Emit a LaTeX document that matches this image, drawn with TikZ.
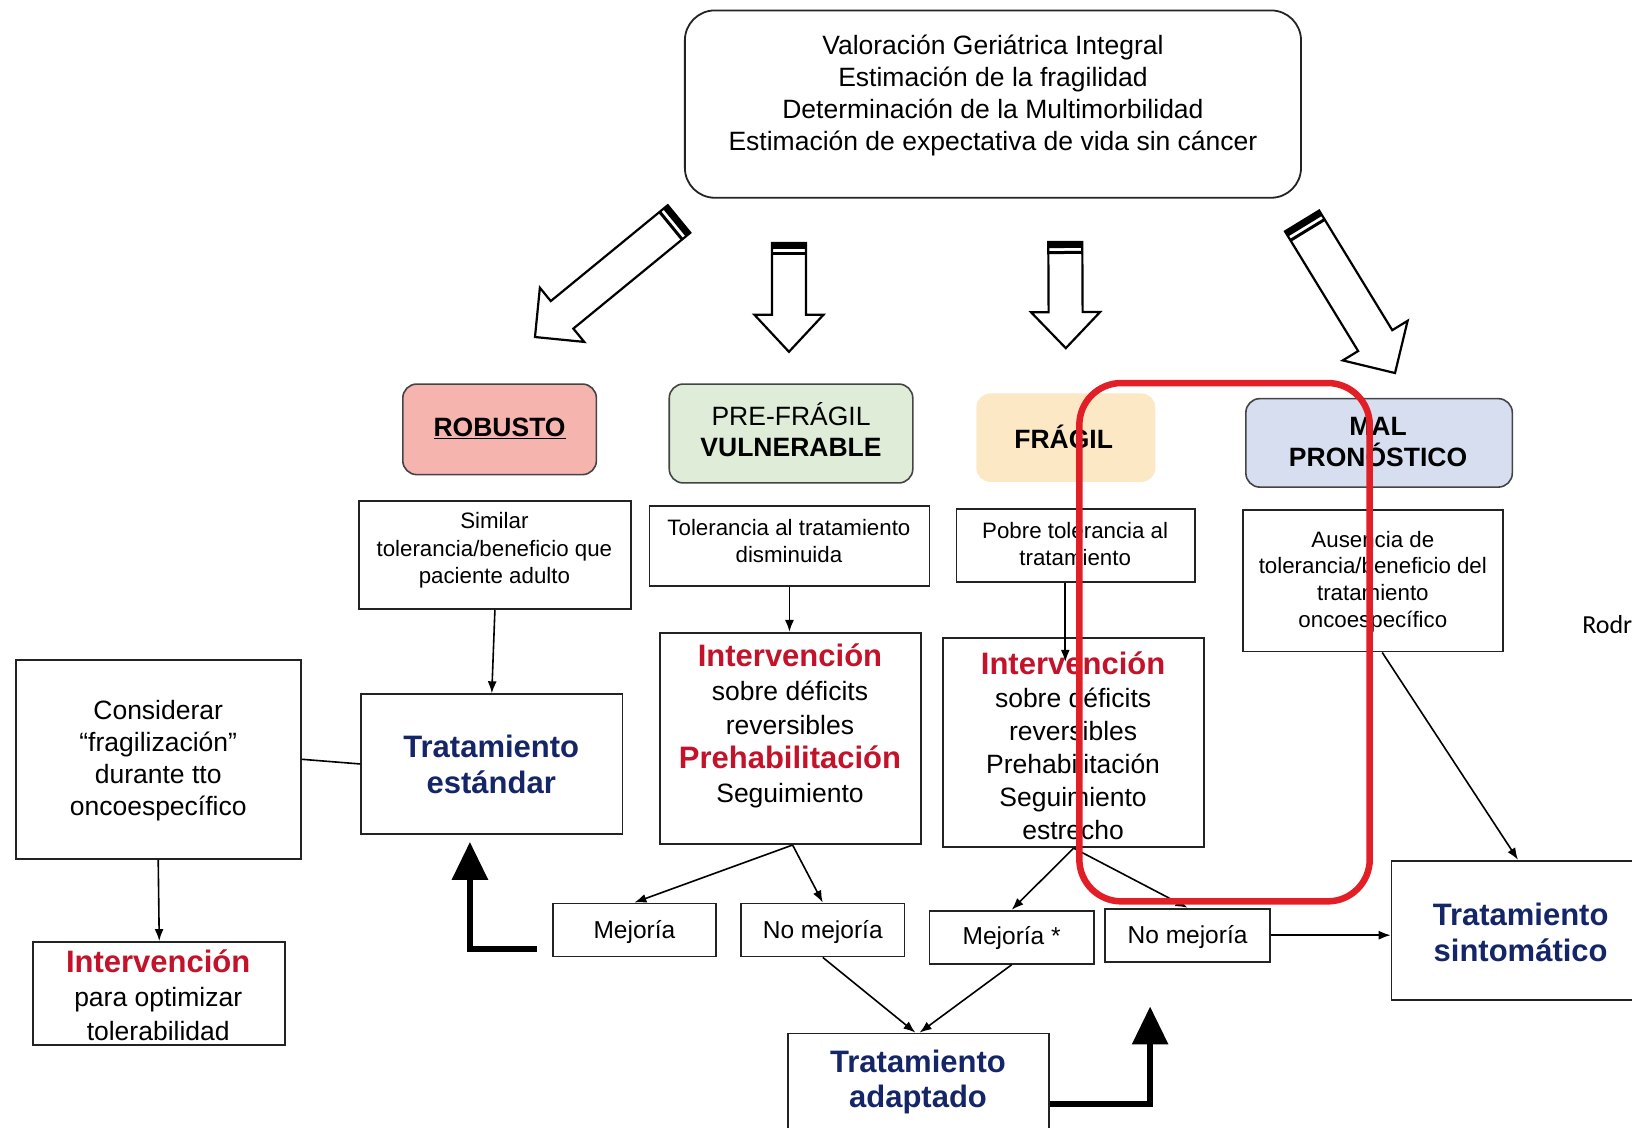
\documentclass[tikz,border=0pt]{standalone}
\usepackage{fontspec}
\setmainfont{Liberation Sans}
\newfontfamily\carlito{Carlito}
\usetikzlibrary{calc,fit,arrows.meta}

\definecolor{boxline}{RGB}{35,35,35}
\definecolor{ired}{RGB}{196,18,42}
\definecolor{tblue}{RGB}{20,38,104}
\definecolor{robfill}{RGB}{246,180,174}
\definecolor{prefill}{RGB}{223,236,215}
\definecolor{fragfill}{RGB}{253,232,198}
\definecolor{malfill}{RGB}{214,222,240}
\definecolor{frame}{RGB}{226,30,38}

\newcommand\fs[2]{\fontsize{#1pt}{#2pt}\selectfont}
\newcommand\redb[1]{{\bfseries\color{ired}\fs{31}{34}#1}}

% hollow block arrow: tail, tip, half shaft width, half head width, head length
\newcommand\blockarrow[5]{%
  \coordinate (ba-b) at ($(#2)!#5!(#1)$);
  \filldraw[hollowarrow]
    ($(#1)!#3!90:(#2)$) -- ($(ba-b)!#3!90:(#2)$) -- ($(ba-b)!#4!90:(#2)$) --
    (#2) -- ($(ba-b)!#4!-90:(#2)$) -- ($(ba-b)!#3!-90:(#2)$) --
    ($(#1)!#3!-90:(#2)$) -- cycle;
  \coordinate (ba-c1) at ($(#1)!3pt!(#2)$);
  \coordinate (ba-c2) at ($(#1)!10.5pt!(#2)$);
  \draw[line width=6pt] ($(ba-c1)!#3!90:(#2)$) -- ($(ba-c1)!#3!-90:(#2)$);
  \draw[line width=3pt] ($(ba-c2)!#3!90:(#2)$) -- ($(ba-c2)!#3!-90:(#2)$);
}

\begin{document}
\begin{tikzpicture}[x=1.0408pt,y=-1.0408pt,
  box/.style={draw=boxline, line width=1.8pt, inner sep=0pt, fill=white},
  catbox/.style={draw=boxline!85, line width=1.6pt, rounded corners=14pt, inner sep=0pt},
  txt/.style={align=center, inner sep=0pt},
  conn/.style={line width=1.6pt, -{Latex[length=12pt,width=9pt]}},
  plainline/.style={line width=1.6pt},
  bigarrow/.style={line width=6.2pt, -{Triangle[length=38pt,width=35pt]}},
  hollowarrow/.style={draw=black, fill=white, line width=2.2pt, line join=miter},
  redframe/.style={draw=frame, line width=6.5pt, rounded corners=42pt}
]
\useasboundingbox (0,0) rectangle (1568,1083);

% top assessment box
\node[box, rounded corners=30pt, fit={(658,10) (1250,190)}] (top) {};
\node[txt, font=\fs{26.5}{32}] (topt) at (954,92)
  {Valoración Geriátrica Integral\\ Estimación de la fragilidad\\
   Determinación de la Multimorbilidad\\ Estimación de expectativa de vida sin cáncer};

% block arrows towards the four profiles
\coordinate (aLt) at (652.4,210.4); \coordinate (aLp) at (514,323.8);
\coordinate (a1t) at (758,233.5);   \coordinate (a1p) at (758,338);
\coordinate (a2t) at (1023.5,232.5);\coordinate (a2p) at (1024,334.5);
\coordinate (aRt) at (1251,212.3);  \coordinate (aRp) at (1340.3,358.4);
\blockarrow{aLt}{aLp}{17.8pt}{35pt}{35pt}
\blockarrow{a1t}{a1p}{17pt}{34.5pt}{37pt}
\blockarrow{a2t}{a2p}{17pt}{34.5pt}{36pt}
\blockarrow{aRt}{aRp}{20pt}{38pt}{38pt}

% profiles
\node[catbox, fill=robfill, fit={(387,369) (573,456)}] (rob) {};
\node[txt, font=\bfseries\fs{26.5}{31}] (robt) at (480,412) {\underline{ROBUSTO}};
\node[catbox, fill=prefill, fit={(643,369) (877,464)}] (pre) {};
\node[txt, font=\fs{26.5}{31}] (pret) at (760,413) {PRE-FRÁGIL\\ \textbf{VULNERABLE}};
\node[catbox, draw=none, fill=fragfill, fit={(938,378) (1110,463)}] (fra) {};
\node[txt, font=\bfseries\fs{26.5}{31}] (frat) at (1022,420) {FRÁGIL};
\node[catbox, fill=malfill, fit={(1197,383) (1453,468)}] (mal) {};
\node[txt, font=\bfseries\fs{26.5}{31}] (malt) at (1324,425) {MAL\\ PRONÓSTICO};

% descriptions
\node[box, fit={(345,481) (606,585)}] (d1) {};
\node[txt, font=\fs{22.3}{27.5}] (d1t) at (475,529) {Similar\\ tolerancia/beneficio que\\ paciente adulto};
\node[box, fit={(624,486) (893,563)}] (d2) {};
\node[txt, font=\fs{22.3}{27.5}] (d2t) at (758,520) {Tolerancia al tratamiento\\ disminuida};
\node[box, fit={(919,489) (1148,559)}] (d3) {};
\node[txt, font=\fs{22.3}{27.5}] (d3t) at (1033,522.5) {Pobre tolerancia al\\ tratamiento};
\node[box, fit={(1194,490) (1444,626)}] (d4) {};
\node[txt, font=\fs{22.3}{26.7}] (d4t) at (1319,558.5) {Ausencia de\\ tolerancia/beneficio del\\ tratamiento\\ oncoespecífico};

\node[anchor=west, inner sep=0pt, font=\carlito\fs{26}{30}] (ref) at (1520,600) {Rodr};

% treatment and intervention boxes
\node[box, fit={(347,667) (598,801)}] (te) {};
\node[txt, font=\bfseries\fs{31}{36}, text=tblue] (tet) at (472,734.5) {Tratamiento\\ estándar};

\node[box, fit={(634,608) (885,811)}] (i2) {};
\node[txt, font=\fs{26.5}{34}] (i2t) at (759,697.5)
  {\redb{Intervención}\\ sobre déficits\\ reversibles\\ \redb{Prehabilitación}\\ Seguimiento};

\node[box, fit={(906,613) (1157,814)}] (i3) {};
\node[txt, font=\fs{26.5}{33}] (i3t) at (1031,716.5)
  {\redb{Intervención}\\ sobre déficits\\ reversibles\\ Prehabilitación\\ Seguimiento\\ estrecho};

\node[box, fit={(15,634) (289,825)}] (cons) {};
\node[txt, font=\fs{26.5}{32}] (const) at (152,730.5)
  {Considerar\\ “fragilización”\\ durante tto\\ oncoespecífico};

\node[box, fit={(32,905) (274,1004)}] (int) {};
\node[txt, font=\fs{26.5}{34}] (intt) at (152,956.5)
  {\redb{Intervención}\\ para optimizar\\ tolerabilidad};

% outcome boxes
\node[box, fit={(531,868) (688,919)}] (m1) {};
\node[txt, font=\fs{24.5}{28}] (m1t) at (609.5,895) {Mejoría};
\node[box, fit={(712,868) (869,919)}] (n1) {};
\node[txt, font=\fs{24.5}{28}] (n1t) at (790.5,895) {No mejoría};
\node[box, fit={(893,875) (1051,926)}] (m2) {};
\node[txt, font=\fs{24.5}{28}] (m2t) at (972,901) {Mejoría *};
\node[box, fit={(1062,873) (1220,924)}] (n2) {};
\node[txt, font=\fs{24.5}{28}] (n2t) at (1141,900) {No mejoría};

\node[box, fit={(757,993) (1008,1090)}] (ta) {};
\node[txt, font=\bfseries\fs{31}{35}, text=tblue] (tat) at (882,1040) {Tratamiento\\ adaptado};
\node[box, fit={(1337,827) (1580,961)}] (ts) {};
\node[txt, font=\bfseries\fs{31}{36}, text=tblue] (tst) at (1461,895.5) {Tratamiento\\ sintomático};

% thin connectors
\draw[conn] (d1.south) -- (te.north);
\draw[conn] (d2.south) -- (d2.south |- i2.north);
\draw[conn] ($(d3.south)+(-10,0)$) -- ($(d3.south)+(-10,76)$);
\draw[plainline] (cons.east) -- (te.west);
\draw[conn] (cons.south) -- (int.north);
\draw[conn] ($(i2.south)+(2,0)$) -- (m1.north);
\draw[conn] ($(i2.south)+(2,0)$) -- (n1.north);
\draw[conn] (i3.south) -- (m2.north);
\draw[conn] (i3.south) -- (n2.north);
\draw[conn] (n1.south) -- ($(ta.north)+(-3,0)$);
\draw[conn] (m2.south) -- ($(ta.north)+(1,0)$);
\draw[conn] (n2.east) -- (n2.east -| ts.west);
\draw[conn] ($(d4.south)+(9,0)$) -- (ts.north);

% heavy return arrows
\coordinate (mstart) at ($(m1.south west)+(-14,-8)$);
\coordinate (teup) at ($(te.south)+(-21,7)$);
\draw[bigarrow] (mstart) -| (teup);
\coordinate (tastart) at ($(ta.east)+(0,19)$);
\coordinate (taup) at (1105,967);
\draw[bigarrow] (tastart) -| (taup);

% highlight frame
\draw[redframe] (1037,368) rectangle (1316,866);
\end{tikzpicture}
\end{document}
